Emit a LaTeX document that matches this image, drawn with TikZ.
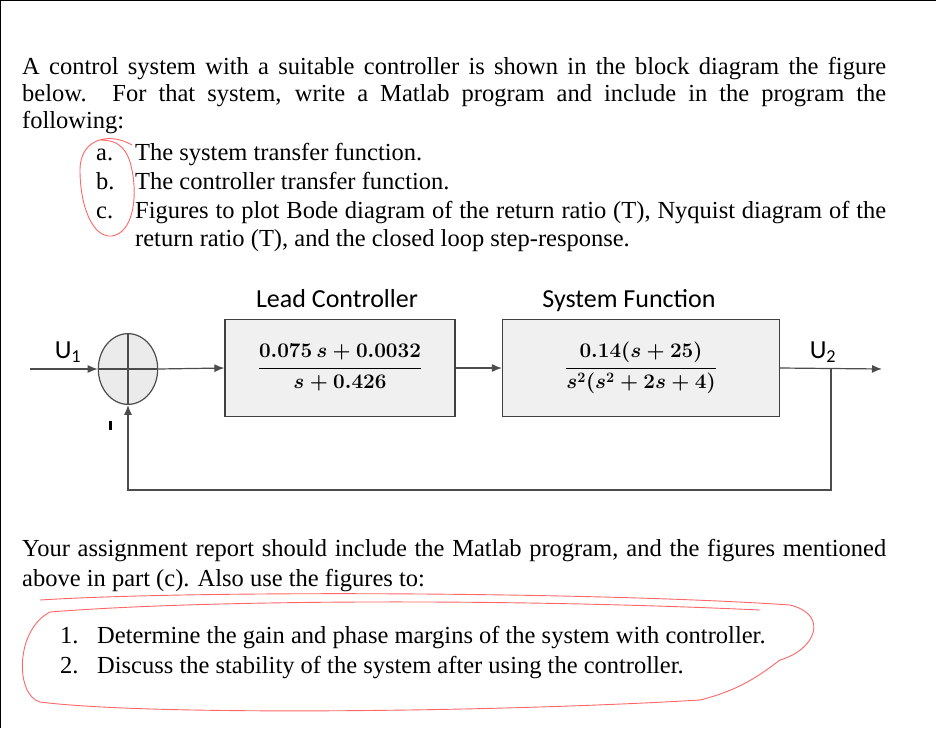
\documentclass[tikz,border=0pt]{standalone}
\usepackage{fontspec}
\usetikzlibrary{arrows.meta,shapes.geometric}
\setmainfont{Liberation Serif}
\newfontfamily\calfont{Carlito}
\begin{document}
\begin{tikzpicture}[x=1pt,y=-1pt,
  txt/.style={anchor=base west,inner sep=0,font=\fontsize{24.5}{27}\selectfont},
  blk/.style={draw=black!75,line width=1.2pt,fill=black!6,inner sep=0},
  frc/.style={font=\fontsize{22}{26}\selectfont\boldmath},
  lbl/.style={font=\calfont\fontsize{26}{28}\selectfont},
  ln/.style={draw=black!70,line width=1.2pt},
  arr/.style={ln,-{Latex[length=10pt,width=8pt]}},
  redmark/.style={draw=red!60,line width=0.9pt}]
\useasboundingbox (0,0) rectangle (936,728);
\draw[line width=1.5pt] (0,728) -- (0,0.7) -- (936,0.7);
% paragraph
\node[txt] (p1) at (22,74) {\makebox[864pt][s]{A control system with a suitable controller is shown in the block diagram the figure}};
\node[txt] (p2) at (22,101) {\makebox[864pt][s]{below. For that system, write a Matlab program and include in the program the}};
\node[txt] (p3) at (22,128) {following:};
\node[txt] (la) at (96,160) {a.};
\node[txt] (ta) at (135,160) {The system transfer function.};
\node[txt] (lb) at (96,189) {b.};
\node[txt] (tb) at (135,189) {The controller transfer function.};
\node[txt] (lc) at (96,218) {c.};
\node[txt] (tc) at (135,218) {\makebox[751pt][s]{Figures to plot Bode diagram of the return ratio (T), Nyquist diagram of the}};
\node[txt] (td) at (135,246) {return ratio (T), and the closed loop step-response.};
% block diagram
\node[lbl] (l1) at (337,299) {Lead Controller};
\node[lbl] (l2) at (629,301) {System Function};
\node[blk] (b1) at (340,368) {\rule{0pt}{97pt}\rule{230pt}{0pt}};
\node[blk] (b2) at (641,368) {\rule{0pt}{97pt}\rule{277pt}{0pt}};
\node[frc] (f1) at (b1.center) {$\displaystyle\frac{0.075\,s+0.0032}{s+0.426}$};
\node[frc] (f2) at (b2.center) {$\displaystyle\frac{0.14(s+25)}{s^2(s^2+2s+4)}$};
\node[draw=black!70,line width=1.2pt,fill=black!8,ellipse,inner sep=0] (sum) at (128,369) {\rule{0pt}{50pt}\rule{42pt}{0pt}};
\draw[ln] (sum.north) -- (sum.south) (sum.west) -- (sum.east);
\coordinate (in) at (30,369);
\coordinate (out) at (882,369);
\coordinate (tap) at (831,369);
\coordinate (c1) at (831,490);
\coordinate (c2) at (128,490);
\draw[arr] (in) -- (sum.west);
\draw[arr] (sum.east) -- (b1.west);
\draw[arr] (b1.east) -- (b2.west);
\draw[arr] (b2.east) -- (out);
\draw[arr] (tap) -- (c1) -- (c2) -- (sum.south);
\node[lbl] (u1) at (68,352) {U\textsubscript{1}};
\node[lbl] (u2) at (823,352) {U\textsubscript{2}};
\node[inner sep=0,minimum width=3pt,minimum height=9pt,fill=black] (mn) at (110,425) {};
% bottom text
\node[txt] (q1) at (22,556) {\makebox[864pt][s]{Your assignment report should include the Matlab program, and the figures mentioned}};
\node[txt] (q2) at (22,586) {above in part (c). Also use the figures to:};
\node[txt] (n1) at (60,643) {1.};
\node[txt] (m1) at (97,643) {Determine the gain and phase margins of the system with controller.};
\node[txt] (n2) at (60,673) {2.};
\node[txt] (m2) at (97,673) {Discuss the stability of the system after using the controller.};
% red annotations
\draw[redmark] (132,145) .. controls (110,132) and (80,138) .. (80,170)
  .. controls (80,205) and (92,238) .. (112,236)
  .. controls (132,233) and (138,200) .. (132,170)
  .. controls (128,150) and (120,140) .. (100,140);
\draw[redmark] (40,600) .. controls (200,590) and (600,592) .. (790,605)
  .. controls (830,615) and (815,650) .. (780,660)
  .. controls (760,675) and (740,690) .. (700,700)
  .. controls (500,712) and (150,716) .. (40,702)
  .. controls (15,695) and (15,630) .. (50,612)
  .. controls (200,600) and (500,598) .. (760,610);
\end{tikzpicture}
\end{document}
